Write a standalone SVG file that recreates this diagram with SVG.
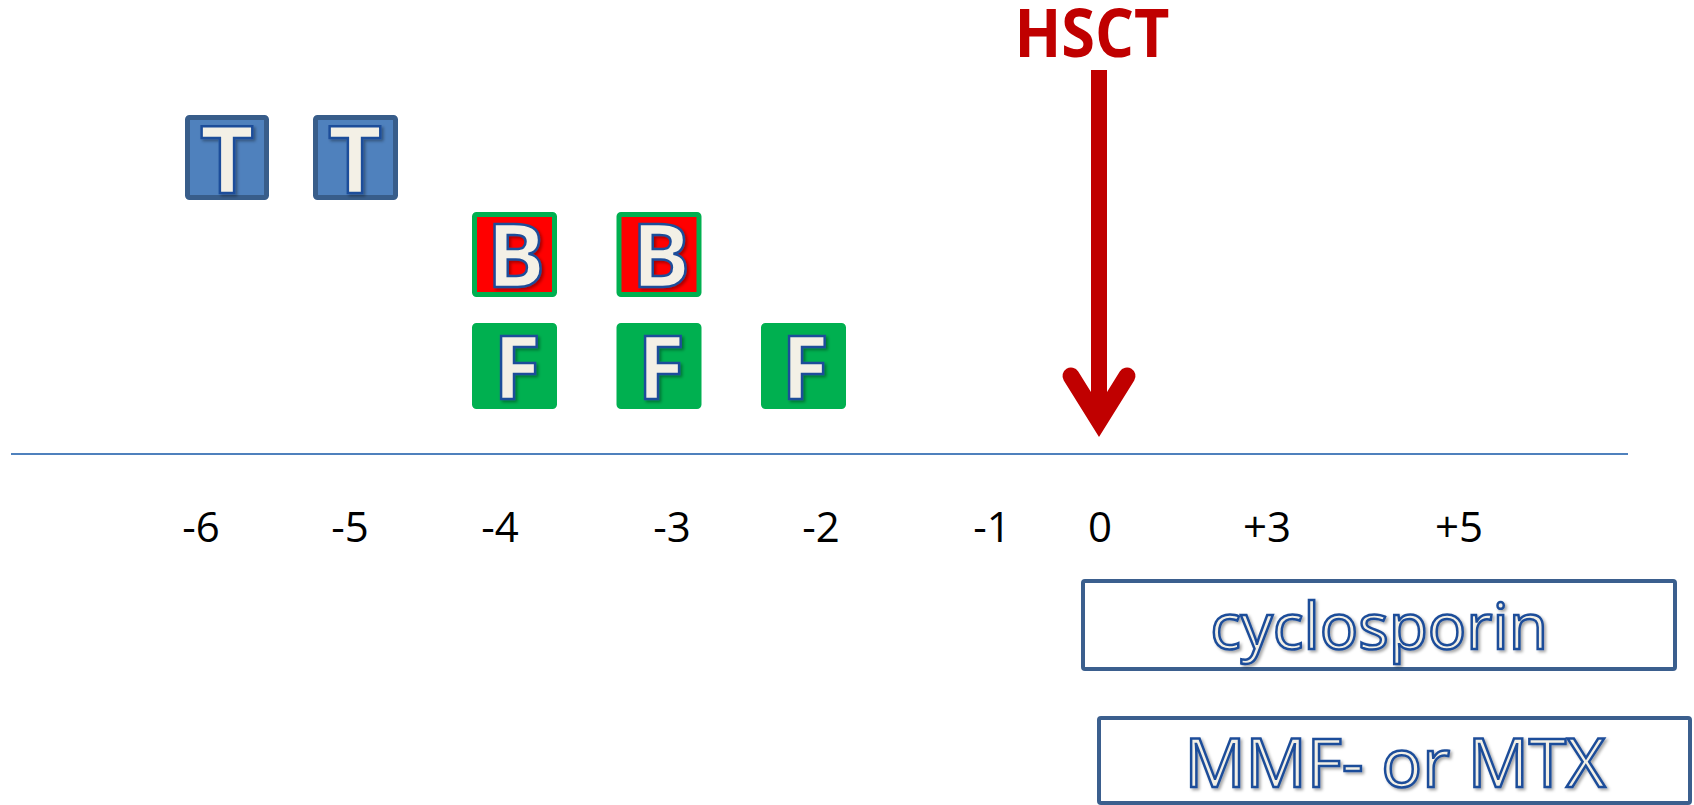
<svg xmlns="http://www.w3.org/2000/svg" width="1694" height="805" viewBox="0 0 1694 805">
<defs>
<filter id="sh" x="-20%" y="-20%" width="140%" height="140%">
<feDropShadow dx="2" dy="2" stdDeviation="1.5" flood-color="#000" flood-opacity="0.35"/>
</filter>
</defs>
<style>
.num{font-family:"Open Sans","Liberation Sans",sans-serif;font-size:42px;fill:#000;text-anchor:middle}
.ol{font-family:"Open Sans","Liberation Sans",sans-serif;fill:#F3F0E6;stroke:#1F4E9A;stroke-width:2.5;text-anchor:middle;filter:url(#sh)}
.letter{font-weight:bold}
.tbox{fill:#4F81BD;stroke:#385D8A;stroke-width:5}
.bbox{fill:#FF0000;stroke:#00B050;stroke-width:5}
.fbox{fill:#00B050;stroke:#00B050;stroke-width:5}
.drug{fill:#fff;stroke:#3B5F8E;stroke-width:4}
</style>
<rect width="1694" height="805" fill="#fff"/>

<g id="connectors">
<line x1="11" y1="454" x2="1628" y2="454" stroke="#4F81BD" stroke-width="2"/>
<g id="hsct-arrow" stroke="#C00000" fill="none">
<line x1="1099" y1="70" x2="1099" y2="415" stroke-width="16"/>
<path d="M1071,376 L1099,421 L1127,376" stroke-width="17" stroke-linecap="round" stroke-linejoin="miter" stroke-miterlimit="10"/>
</g>
</g>

<g id="hsct"><text x="1092" y="57" font-family="Open Sans,Liberation Sans,sans-serif" font-weight="bold" font-size="66" fill="#C00000" text-anchor="middle" textLength="155" lengthAdjust="spacingAndGlyphs">HSCT</text></g>

<g id="t1"><rect class="tbox" x="187.5" y="117.5" width="79" height="80" rx="2"/><text class="ol letter" x="227" y="193" font-size="94">T</text></g>
<g id="t2"><rect class="tbox" x="315.5" y="117.5" width="80" height="80" rx="2"/><text class="ol letter" x="355" y="193" font-size="94">T</text></g>

<g id="b1"><rect class="bbox" x="474.5" y="214.5" width="80" height="80" rx="2"/><text class="ol letter" x="516" y="287" font-size="87">B</text></g>
<g id="b2"><rect class="bbox" x="619" y="214.5" width="80" height="80" rx="2"/><text class="ol letter" x="661" y="287" font-size="87">B</text></g>

<g id="f1"><rect class="fbox" x="474.5" y="325.5" width="80" height="81" rx="2"/><text class="ol letter" x="517" y="399" font-size="87">F</text></g>
<g id="f2"><rect class="fbox" x="619" y="325.5" width="80" height="81" rx="2"/><text class="ol letter" x="661" y="399" font-size="87">F</text></g>
<g id="f3"><rect class="fbox" x="763.5" y="325.5" width="80" height="81" rx="2"/><text class="ol letter" x="805" y="399" font-size="87">F</text></g>

<g id="axis-labels">
<text class="num" x="201" y="542">-6</text>
<text class="num" x="350" y="542">-5</text>
<text class="num" x="500" y="542">-4</text>
<text class="num" x="672" y="542">-3</text>
<text class="num" x="821" y="542">-2</text>
<text class="num" x="992" y="542">-1</text>
<text class="num" x="1100" y="542">0</text>
<text class="num" x="1267" y="542">+3</text>
<text class="num" x="1459" y="542">+5</text>
</g>

<g id="cyclosporin"><rect class="drug" x="1083" y="581" width="592" height="88" rx="2"/><text class="ol" x="1379" y="649" font-size="64">cyclosporin</text></g>
<g id="mmf"><rect class="drug" x="1099" y="718" width="591" height="85" rx="2"/><text class="ol" x="1395" y="787" font-size="68">MMF- or MTX</text></g>
</svg>
